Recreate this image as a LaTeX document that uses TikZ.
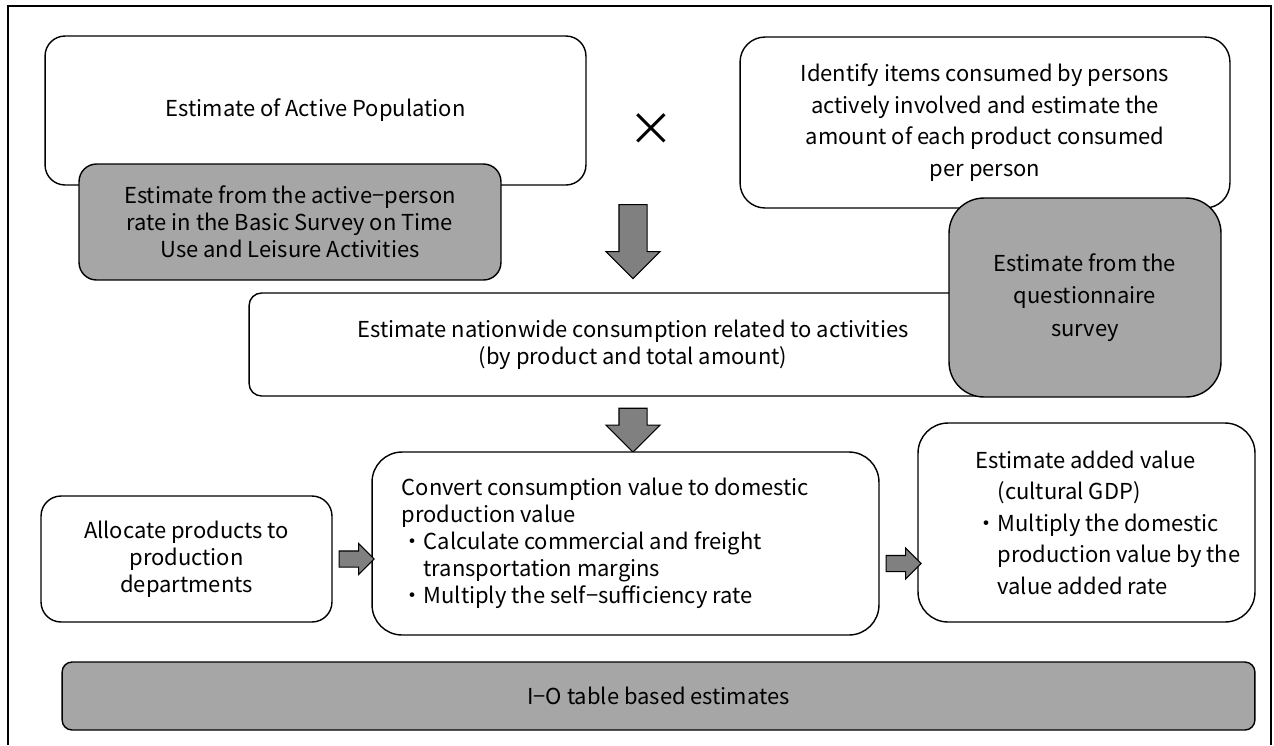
\documentclass[tikz,border=0pt]{standalone}
\usepackage{fontspec}
\setmainfont{Noto Sans CJK JP}
\usetikzlibrary{shapes.arrows,positioning}

\definecolor{boxgray}{HTML}{A6A6A6}
\definecolor{arrowgray}{HTML}{808080}

\begin{document}
\begin{tikzpicture}[x=0.02cm,y=-0.02cm,
    every node/.style={font=\fontsize{12.5}{15.4}\selectfont},
    box/.style={draw,line width=0.8pt,rounded corners=#1,fill=white,align=center,inner sep=0pt},
    box/.default=0.4cm,
    gray box/.style={box=#1,fill=boxgray},
    gray box/.default=0.4cm,
    down arrow/.style={single arrow,draw,fill=arrowgray,line width=0.6pt,shape border rotate=270,
                       minimum width=1.06cm,single arrow head extend=0.26cm,inner sep=0.27cm},
    right arrow/.style={single arrow,draw,fill=arrowgray,line width=0.6pt,minimum width=0.6cm,
                        minimum height=0.7cm,single arrow head extend=0.15cm,inner sep=0.15cm}]

  \useasboundingbox (0,0) rectangle (1274,745);
  \draw[line width=1pt] (8,745) -- (8,6) -- (1271,6) -- (1271,745);

  \node[box,minimum width=10.82cm,minimum height=2.98cm] (pop) at (315.5,110.5) {Estimate of Active Population};
  \node[gray box=0.35cm,minimum width=8.44cm,minimum height=2.32cm] (timeuse) at (290,222)
       {Estimate from the active−person\\ rate in the Basic Survey on Time\\ Use and Leisure Activities};
  \node[font=\fontsize{26}{26}\selectfont] (times) at (651,130) {×};
  \node[box=0.5cm,minimum width=9.8cm,minimum height=3.42cm,font=\fontsize{12.5}{18}\selectfont] (items) at (985,122.5)
       {Identify items consumed by persons\\ actively involved and estimate the\\ amount of each product consumed\\ per person};
  \node[box=0.25cm,minimum width=15.36cm,minimum height=2.06cm] (natl) at (633,344.5)
       {Estimate nationwide consumption related to activities\\ (by product and total amount)};
  \node[gray box=0.7cm,minimum width=5.44cm,minimum height=3.98cm,font=\fontsize{12.5}{18.5}\selectfont] (survey) at (1085,297.5)
       {Estimate from the\\ questionnaire\\ survey};

  \node[down arrow,minimum height=1.48cm,anchor=tip] (arrA) at ([yshift=0.26cm]natl.north) {};
  \node[down arrow,minimum height=0.88cm,anchor=tail] (arrB) at ([yshift=-0.22cm]natl.south) {};

  \node[box,minimum width=5.82cm,minimum height=2.52cm] (alloc) at (186.5,559)
       {Allocate products to\\ production\\ departments};
  \node[box=0.6cm,minimum width=10.14cm,minimum height=3.66cm] (conv) at (625.5,543.5) {};
  \node[anchor=west,align=left,inner sep=0pt] (convtext) at ([xshift=0.6cm]conv.west)
       {Convert consumption value to domestic\\ production value\\ ・Calculate commercial and freight\\
        \phantom{・}transportation margins\\ ・Multiply the self−sufficiency rate};
  \node[box=0.6cm,minimum width=6.74cm,minimum height=3.98cm] (gdp) at (1086.5,522.5) {};
  \node[anchor=west,align=left,inner sep=0pt,font=\fontsize{12.5}{17.9}\selectfont] (gdptext) at ([xshift=1.16cm]gdp.west)
       {Estimate added value\\ \phantom{・}(cultural GDP)\\ ・Multiply the domestic\\
        \phantom{・}production value by the\\ \phantom{・}value added rate};

  \node[right arrow,anchor=tail] (arrC) at ([xshift=0.12cm]alloc.east) {};
  \node[right arrow,anchor=tail] (arrD) at ([xshift=0.12cm,yshift=-0.4cm]conv.east) {};

  \node[gray box=0.2cm,minimum width=23.86cm,minimum height=1.36cm] (io) at (658.5,696) {I−O table based estimates};
\end{tikzpicture}
\end{document}
